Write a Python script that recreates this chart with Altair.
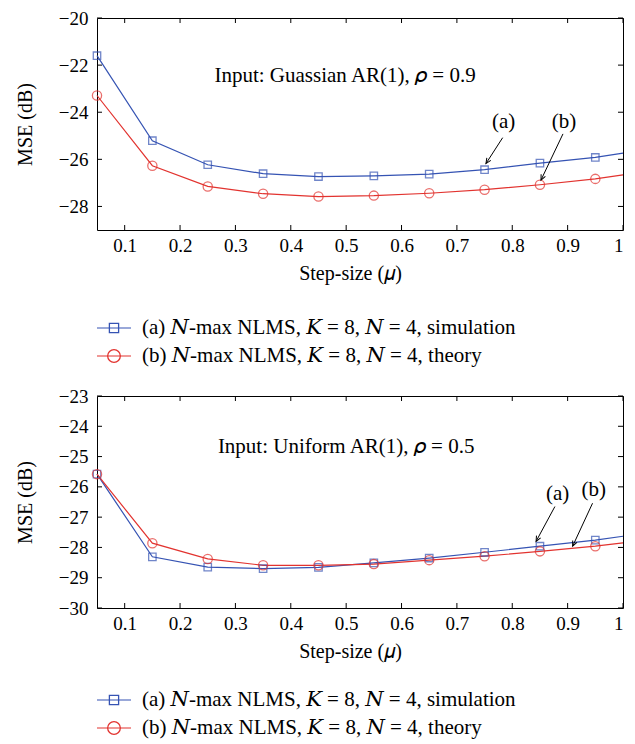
import math
import altair as alt
import pandas as pd

# ---------------- data ----------------
MU_MARKS = [0.05, 0.15, 0.25, 0.35, 0.45, 0.55, 0.65, 0.75, 0.85, 0.95]
MU_LINE = MU_MARKS + [1.0]

TOP_SIM = [-21.6, -25.21, -26.23, -26.61, -26.73, -26.70, -26.63, -26.44, -26.16, -25.92, -25.74]
TOP_THEORY = [-23.29, -26.27, -27.15, -27.46, -27.58, -27.54, -27.44, -27.29, -27.08, -26.83, -26.66]
BOT_SIM = [-25.58, -28.31, -28.65, -28.70, -28.66, -28.51, -28.35, -28.16, -27.96, -27.76, -27.63]
BOT_THEORY = [-25.58, -27.86, -28.38, -28.59, -28.59, -28.55, -28.42, -28.29, -28.13, -27.96, -27.85]

X_TICKS = [0.1, 0.2, 0.3, 0.4, 0.5, 0.6, 0.7, 0.8, 0.9, 1.0]
TOP_YTICKS = [-20, -22, -24, -26, -28]
BOT_YTICKS = [-23, -24, -25, -26, -27, -28, -29, -30]
TOP_YDOMAIN = [-29, -20]
BOT_YDOMAIN = [-30, -23]

SERIES = ["sim", "theory"]
LEGEND_LABELS = [
    "(a) \U0001D441-max NLMS, \U0001D43E = 8, \U0001D441 = 4, simulation",
    "(b) \U0001D441-max NLMS, \U0001D43E = 8, \U0001D441 = 4, theory",
]
TOP_NOTE = "Input: Guassian AR(1), \U0001D70C = 0.9"
BOT_NOTE = "Input: Uniform AR(1), \U0001D70C = 0.5"
TOP_NOTE_POS = [0.498, -22.46]
BOT_NOTE_POS = [0.50, -24.67]

ANN_LABELS = ["(a)", "(b)"]
TOP_ANN_X = [0.7845, 0.8934]
TOP_ANN_Y = [-24.40, -24.40]
TOP_ARROW = [[0.7827, -25.08, 0.7525, -26.18], [0.8916, -24.92, 0.8519, -26.88]]
BOT_ANN_X = [0.882, 0.947]
BOT_ANN_Y = [-26.23, -26.12]
BOT_ARROW = [[0.877, -26.65, 0.843, -27.80], [0.945, -26.54, 0.909, -27.96]]

# ---------------- style ----------------
W, H = 526, 212
FONT = "Liberation Serif, DejaVu Serif, serif"
BLUE = "#3553b3"
RED = "#e2332f"
FS_TEXT = 21
FS_AXIS = 19
FS_TITLE = 20
XDOM = [0.05, 1.0]


def panel(sim, theory, ydom, yticks, note, note_pos, ann_x, ann_y, arrows, legend_y):
    df = pd.DataFrame({
        "mu": MU_LINE * 2,
        "mse": sim + theory,
        "series": ["sim"] * len(MU_LINE) + ["theory"] * len(MU_LINE),
    })
    xs = alt.Scale(domain=XDOM, nice=False, zero=False)
    ys = alt.Scale(domain=ydom, nice=False, zero=False)
    color = alt.Color("series:N", scale=alt.Scale(domain=SERIES, range=[BLUE, RED]), legend=None)

    x_axis = alt.Axis(values=X_TICKS, format="~g", title="Step-size (\U0001D707)", ticks=False,
                      domain=False, grid=False, labelPadding=6, titlePadding=8, titleX=W / 2 - 10)
    y_axis = alt.Axis(values=yticks, title="MSE (dB)", ticks=False, domain=False, grid=False,
                      labelPadding=9, titlePadding=23)

    def X(f):
        return alt.X(f, scale=xs, axis=x_axis)

    def Y(f):
        return alt.Y(f, scale=ys, axis=y_axis)

    lines = alt.Chart(df).mark_line(strokeWidth=1.2).encode(x=X("mu:Q"), y=Y("mse:Q"), color=color)
    pts = alt.Chart(df).transform_filter(alt.datum.mu < 0.99).mark_point(
        filled=False, strokeWidth=1.3).encode(
        x=X("mu:Q"), y=Y("mse:Q"),
        color=color,
        shape=alt.Shape("series:N", scale=alt.Scale(domain=SERIES, range=["square", "circle"]), legend=None),
        size=alt.Size("series:O", scale=alt.Scale(domain=SERIES, range=[55, 85]), legend=None),
    )

    xt = pd.DataFrame({"mu": X_TICKS})
    yt = pd.DataFrame({"mse": yticks})
    xtick_b = alt.Chart(xt).mark_rule(color="black", strokeWidth=1).encode(
        x=X("mu:Q"), y=alt.value(H), y2=alt.value(H - 5))
    xtick_t = alt.Chart(xt).mark_rule(color="black", strokeWidth=1).encode(
        x=X("mu:Q"), y=alt.value(0), y2=alt.value(5))
    ytick_l = alt.Chart(yt).mark_rule(color="black", strokeWidth=1).encode(
        y=Y("mse:Q"), x=alt.value(0), x2=alt.value(5))
    ytick_r = alt.Chart(yt).mark_rule(color="black", strokeWidth=1).encode(
        y=Y("mse:Q"), x=alt.value(W - 5), x2=alt.value(W))

    note_df = pd.DataFrame({"mu": [note_pos[0]], "mse": [note_pos[1]], "label": [note]})
    note_layer = alt.Chart(note_df).mark_text(font=FONT, fontSize=FS_TEXT, color="black").encode(
        x=X("mu:Q"), y=Y("mse:Q"), text="label:N")

    ann_df = pd.DataFrame({"mu": ann_x, "mse": ann_y, "label": ANN_LABELS})
    ann_layer = alt.Chart(ann_df).mark_text(font=FONT, fontSize=FS_TEXT, color="black").encode(
        x=X("mu:Q"), y=Y("mse:Q"), text="label:N")

    angles = []
    for x1, y1, x2, y2 in arrows:
        dx = (x2 - x1) * W / (XDOM[1] - XDOM[0])
        dy = -(y2 - y1) * H / (ydom[1] - ydom[0])
        angles.append(math.degrees(math.atan2(dx, -dy)) % 360)
    arr_df = pd.DataFrame({
        "mu": [a[0] for a in arrows], "mse": [a[1] for a in arrows],
        "mu2": [a[2] for a in arrows], "mse2": [a[3] for a in arrows],
        "ang": angles,
    })
    arr_line = alt.Chart(arr_df).mark_rule(color="black", strokeWidth=1).encode(
        x=X("mu:Q"), y=Y("mse:Q"), x2="mu2:Q", y2="mse2:Q")
    arr_head = alt.Chart(arr_df).mark_point(
        shape="M-0.45,1L0,0L0.45,1", filled=False, color="black", strokeWidth=1, size=110, opacity=1).encode(
        x=X("mu2:Q"), y=Y("mse2:Q"),
        angle=alt.Angle("ang:Q", scale=None))

    legend_layers = []
    for i, (lab, col, shp, sz) in enumerate(zip(LEGEND_LABELS, [BLUE, RED], ["square", "circle"], [85, 160])):
        ly = legend_y[i]
        ldf = pd.DataFrame({"label": [lab]})
        legend_layers.append(alt.Chart(ldf).mark_rule(color=col, strokeWidth=1.2).encode(
            x=alt.value(0), x2=alt.value(34), y=alt.value(ly)))
        legend_layers.append(alt.Chart(ldf).mark_point(
            shape=shp, filled=False, color=col, strokeWidth=1.3, size=sz, opacity=1).encode(
            x=alt.value(17), y=alt.value(ly)))
        legend_layers.append(alt.Chart(ldf).mark_text(
            font=FONT, fontSize=FS_TEXT, color="black", align="left", baseline="middle").encode(
            x=alt.value(45), y=alt.value(ly), text="label:N"))

    return alt.layer(lines, pts, xtick_b, xtick_t, ytick_l, ytick_r, note_layer,
                     ann_layer, arr_line, arr_head, *legend_layers).properties(width=W, height=H)


top = panel(TOP_SIM, TOP_THEORY, TOP_YDOMAIN, TOP_YTICKS, TOP_NOTE, TOP_NOTE_POS,
            TOP_ANN_X, TOP_ANN_Y, TOP_ARROW, [H + 98, H + 126])
bot = panel(BOT_SIM, BOT_THEORY, BOT_YDOMAIN, BOT_YTICKS, BOT_NOTE, BOT_NOTE_POS,
            BOT_ANN_X, BOT_ANN_Y, BOT_ARROW, [H + 92, H + 120])

chart = alt.vconcat(top, bot, spacing=19).properties(
    padding={"left": 6, "top": 0, "right": 0, "bottom": 0}
).configure_view(stroke="black", strokeWidth=1).configure_axis(
    labelFont=FONT, titleFont=FONT, labelFontSize=FS_AXIS, titleFontSize=FS_TITLE,
    labelColor="black", titleColor="black", titleFontWeight="normal"
)

chart.save("out.html", embed_options={"renderer": "svg", "actions": False})
